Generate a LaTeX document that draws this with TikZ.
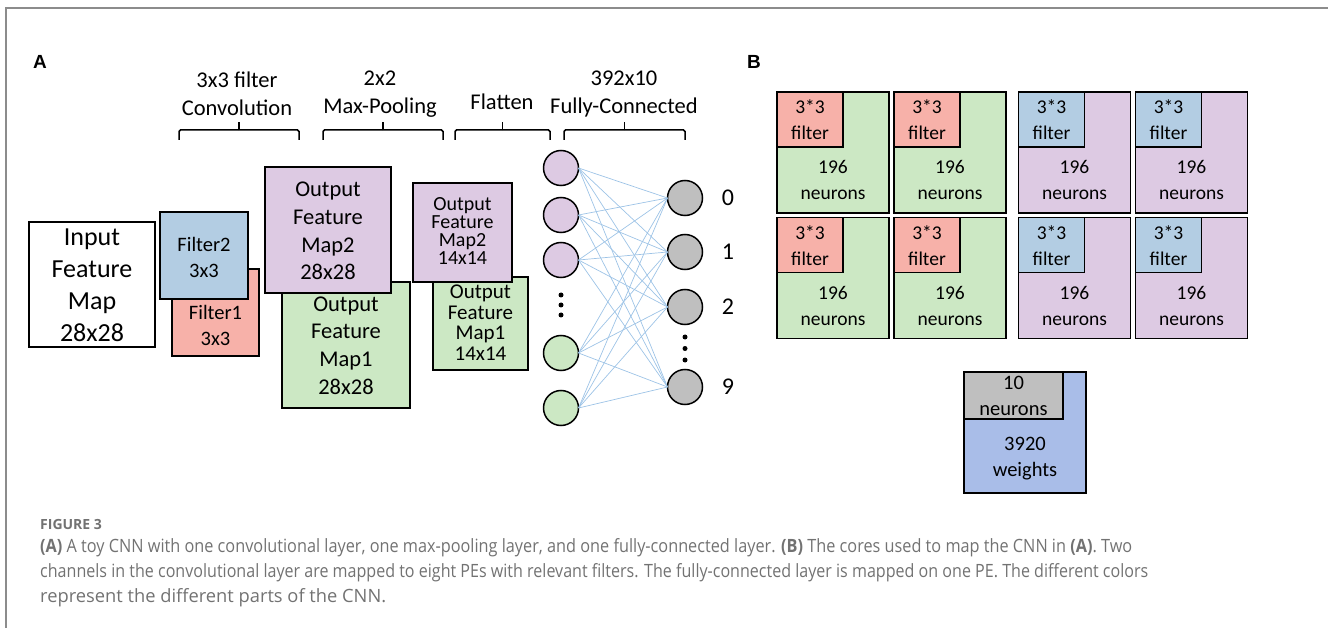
\documentclass[tikz,border=0pt]{standalone}
\usepackage{fontspec}
\usepackage{graphicx}
\usetikzlibrary{calc}
\setmainfont{Carlito}
\newfontfamily\capfont{Open Sans}
\newfontfamily\labfont{Liberation Sans}
\definecolor{cgreen}{HTML}{CCE8C4}
\definecolor{cpurple}{HTML}{DDCAE3}
\definecolor{cred}{HTML}{F7B1A9}
\definecolor{cblue}{HTML}{B3CDE3}
\definecolor{cgray}{HTML}{BFBFBF}
\definecolor{cperi}{HTML}{A9BDE8}
\definecolor{cline}{HTML}{9DC3E6}
\definecolor{capgray}{HTML}{727272}
\definecolor{framegray}{HTML}{8C8C8C}
\begin{document}
\begin{tikzpicture}[x=1pt,y=-1pt,
  box/.style={draw=black, line width=1.5pt, inner sep=0pt, outer sep=0pt},
  neuron/.style={circle, draw=black, line width=1.5pt, minimum size=35pt, inner sep=0pt, outer sep=0pt},
  conn/.style={cline, line width=0.7pt},
  brace/.style={line width=1.5pt, rounded corners=1.5pt},
  dotst/.style={circle, fill=black, inner sep=0pt, minimum size=5pt},
  tbig/.style={font=\fontsize{26}{32}\selectfont, align=center, inner sep=0pt},
  tmid/.style={font=\fontsize{22.5}{27.7}\selectfont, align=center, inner sep=0pt},
  thead/.style={font=\fontsize{22.5}{28}\selectfont, align=center, inner sep=0pt},
  tfil/.style={font=\fontsize{20.5}{26}\selectfont, align=center, inner sep=0pt},
  tb/.style={font=\fontsize{19.5}{26}\selectfont, align=center, inner sep=0pt},
  tfc/.style={font=\fontsize{20.5}{25.5}\selectfont, align=center, inner sep=0pt},
  captext/.style={font=\capfont\fontsize{18.3}{20}\selectfont, text=capgray, inner sep=0pt, anchor=base west}
]
\useasboundingbox (0,0) rectangle (1328,628);
% frame
\draw[framegray, line width=2pt] (6,629) -- (6,8) -- (1329,8);
% panel labels
\node[font=\labfont\bfseries\fontsize{19}{20}\selectfont, anchor=base west, inner sep=0pt] (lA) at (33,68.5) {A};
\node[font=\labfont\bfseries\fontsize{19}{20}\selectfont, anchor=base west, inner sep=0pt] (lB) at (747,68.5) {B};

% headers
\node[thead] (h1) at (237,94) {3x3 filter\\Convolution};
\node[thead] (h2) at (380,94) {2x2\\Max-Pooling};
\node[thead] (h3) at (502,102) {Flatten};
\node[thead] (h4) at (624,94) {392x10\\Fully-Connected};
% braces
\foreach \a/\b in {179/299, 323/443, 455/550, 564/685}{
  \draw[brace] (\a,140) -- (\a,130) -- (\b,130) -- (\b,140);
  \draw[line width=1.5pt] ({(\a+\b)/2},130.5) -- ({(\a+\b)/2},122);
}

% input
\node[box, fill=white, minimum width=126pt, minimum height=125pt] (inp) at (92,284.5) {};
\node[tbig] (inpt) at (92,285) {Input\\Feature\\Map\\28x28};
% filters
\node[box, fill=cred, minimum width=87pt, minimum height=87pt] (f1) at (215.5,312.5) {};
\node[tfil] (f1t) at (215.5,325.5) {Filter1\\3x3};
\node[box, fill=cblue, minimum width=88pt, minimum height=87pt] (f2) at (204,255.5) {};
\node[tfil] (f2t) at (204,257) {Filter2\\3x3};
% output 28x28
\node[box, fill=cgreen, minimum width=128pt, minimum height=126pt] (m1) at (346,345) {};
\node[tmid] (m1t) at (346,345.5) {Output\\Feature\\Map1\\28x28};
\node[box, fill=cpurple, minimum width=126pt, minimum height=126pt] (m2) at (328,230) {};
\node[tmid] (m2t) at (328,231) {Output\\Feature\\Map2\\28x28};
% output 14x14
\node[box, fill=cgreen, minimum width=95pt, minimum height=93pt] (p1) at (480.5,323.5) {};
\node[font=\fontsize{21}{20.5}\selectfont, align=center, inner sep=0pt] (p1t) at (480.5,322.5) {Output\\Feature\\Map1\\14x14};
\node[box, fill=cpurple, minimum width=99pt, minimum height=99pt] (p2) at (462.5,232.5) {};
\node[font=\fontsize{20}{17.8}\selectfont, align=center, inner sep=0pt] (p2t) at (462.5,231) {Output\\Feature\\Map2\\14x14};

% neurons
\node[neuron, fill=cpurple] (i1) at (561,168) {};
\node[neuron, fill=cpurple] (i2) at (561,215) {};
\node[neuron, fill=cpurple] (i3) at (561,260) {};
\node[neuron, fill=cgreen] (i4) at (561,353) {};
\node[neuron, fill=cgreen] (i5) at (561,408) {};
\node[neuron, fill=cgray] (o1) at (685,198) {};
\node[neuron, fill=cgray] (o2) at (685,252) {};
\node[neuron, fill=cgray] (o3) at (685,307) {};
\node[neuron, fill=cgray] (o4) at (685,387) {};
\foreach \i in {1,...,5}{
  \foreach \j in {1,...,4}{
    \draw[conn] (i\i.east) -- (o\j.west);
  }
}
\node[dotst] (d1) at (561,295) {};
\node[dotst] (d2) at (561,305) {};
\node[dotst] (d3) at (561,315) {};
\node[dotst] (e1) at (685,337) {};
\node[dotst] (e2) at (685,348.5) {};
\node[dotst] (e3) at (685,360) {};
\node[font=\fontsize{24}{28}\selectfont, inner sep=0pt] (n0) at (728,198) {0};
\node[font=\fontsize{24}{28}\selectfont, inner sep=0pt] (n1) at (728,252) {1};
\node[font=\fontsize{24}{28}\selectfont, inner sep=0pt] (n2) at (728,307) {2};
\node[font=\fontsize{24}{28}\selectfont, inner sep=0pt] (n9) at (728,387) {9};

% panel B
\foreach \c/\x/\fc/\bc in {1/833/cred/cgreen, 2/950/cred/cgreen, 3/1074.5/cblue/cpurple, 4/1191.5/cblue/cpurple}{
  \foreach \r/\y in {1/152.5, 2/278}{
    \node[box, fill=\bc, minimum width=112pt, minimum height=121pt] (pe\c\r) at (\x,\y) {};
    \node[box, fill=\fc, minimum width=66pt, minimum height=55pt, anchor=north west] (fl\c\r) at (pe\c\r.north west) {};
    \node[tb] (flt\c\r) at ($(fl\c\r.center)+(0,0.5)$) {3*3\\filter};
    \node[tb] (pet\c\r) at ($(pe\c\r.center)+(0,27.5)$) {196\\neurons};
  }
}
\node[box, fill=cperi, minimum width=122pt, minimum height=121pt] (fc) at (1025,432.5) {};
\node[box, fill=cgray, minimum width=99pt, minimum height=47pt, anchor=north west] (fcn) at (fc.north west) {};
\node[tfc] (fcnt) at (1013.5,396) {10\\neurons};
\node[tfc] (fct) at (1025,458.5) {3920\\weights};

% caption
\node[captext, font=\capfont\bfseries\fontsize{14}{16}\selectfont] (c0) at (40,529) {FIGURE 3};
\node[captext] (c1) at (40,552) {\resizebox{1092pt}{\height}{\textbf{(A)} A toy CNN with one convolutional layer, one max-pooling layer, and one fully-connected layer. \textbf{(B)} The cores used to map the CNN in \textbf{(A)}. Two}};
\node[captext] (c2) at (40,577) {\resizebox{1108pt}{\height}{channels in the convolutional layer are mapped to eight PEs with relevant filters. The fully-connected layer is mapped on one PE. The different colors}};
\node[captext] (c3) at (40,602) {represent the different parts of the CNN.};
\end{tikzpicture}
\end{document}
